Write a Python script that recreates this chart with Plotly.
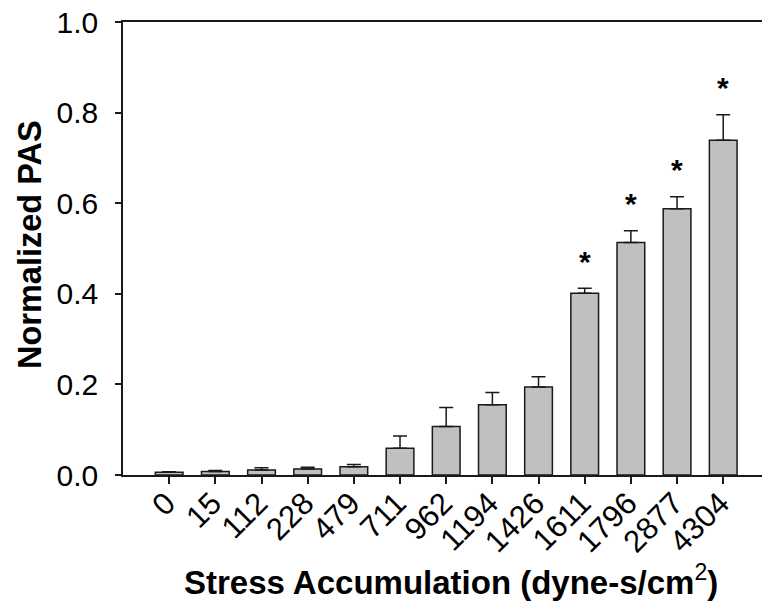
import plotly.graph_objects as go

categories = ["0", "15", "112", "228", "479", "711", "962", "1194", "1426", "1611", "1796", "2877", "4304"]
means = [0.006, 0.008, 0.011, 0.013, 0.018, 0.059, 0.107, 0.155, 0.194, 0.401, 0.513, 0.588, 0.739]
errors = [0.001, 0.002, 0.005, 0.004, 0.005, 0.027, 0.042, 0.027, 0.023, 0.011, 0.026, 0.026, 0.056]
significant = [False] * 9 + [True] * 4

y_ticks = [0.0, 0.2, 0.4, 0.6, 0.8, 1.0]

FONT = "Liberation Sans, Arial, sans-serif"
INK = "#1a1a1a"

fig = go.Figure()
fig.add_trace(go.Bar(
    x=categories,
    y=means,
    width=0.6,
    marker=dict(color="#c0c0c0", line=dict(color=INK, width=1.5)),
    error_y=dict(type="data", symmetric=False, array=errors,
                 arrayminus=[0] * len(errors), color=INK, thickness=1.5, width=7),
    showlegend=False,
))

for i, (m, e, s) in enumerate(zip(means, errors, significant)):
    if s:
        fig.add_annotation(x=i, y=m + e, xref="x", yref="y", text="<b>*</b>", showarrow=False,
                           yanchor="middle", yshift=27,
                           font=dict(family=FONT, size=30, color="black"))

fig.add_annotation(xref="paper", yref="paper", x=(451 - 123) / (762 - 123),
                   y=-(580 - 475) / 453, xanchor="center", yanchor="middle",
                   text="<b>Stress Accumulation (dyne-s/cm</b><sup>2</sup><b>)</b>",
                   showarrow=False, font=dict(family=FONT, size=33, color="black"))
fig.add_annotation(xref="paper", yref="paper", x=-(123 - 30) / (762 - 123),
                   y=(475 - 245) / 453, xanchor="center", yanchor="middle",
                   text="<b>Normalized PAS</b>", textangle=-90,
                   showarrow=False, font=dict(family=FONT, size=32.5, color="black"))

fig.update_layout(
    width=762, height=604,
    margin=dict(l=123, r=0, t=22, b=129, pad=0),
    paper_bgcolor="white", plot_bgcolor="white",
    font=dict(family=FONT, color="black"),
    bargap=0.4,
)
fig.update_xaxes(
    type="category",
    range=[-1, 12.84], showline=True, linecolor=INK, linewidth=1.5, mirror=True,
    ticks="outside", ticklen=7, tickwidth=1.5, tickcolor=INK,
    tickangle=-45, tickfont=dict(family=FONT, size=31, color="black"),
    ticklabelstandoff=-11, ticklabelshift=-3,
    showgrid=False, zeroline=False,
)
fig.update_yaxes(
    range=[0, 1], tickvals=y_ticks, ticktext=[f"{v:.1f}" for v in y_ticks],
    showline=True, linecolor=INK, linewidth=1.5, mirror=False,
    ticks="outside", ticklen=6, tickwidth=1.5, tickcolor=INK,
    tickfont=dict(family=FONT, size=30, color="black"), ticklabelstandoff=11,
    showgrid=False, zeroline=False,
)

fig.write_html("out.html")
